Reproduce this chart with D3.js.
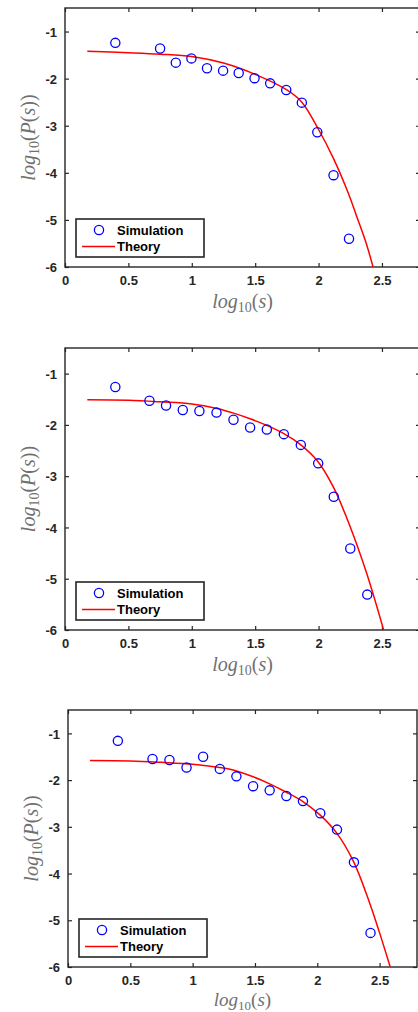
<!DOCTYPE html>
<html>
<head>
<meta charset="utf-8">
<script src="https://cdn.jsdelivr.net/npm/d3@7"></script>
<style>
  body { margin: 0; background: #fff; }
  svg { display: block; }
  .tick text { font-family: "Liberation Sans", Arial, sans-serif; font-weight: bold; font-size: 13px; fill: #262626; }
  .lab { font-family: "Liberation Serif", "Times New Roman", serif; fill: #707070; }
  .leg { font-family: "Liberation Sans", Arial, sans-serif; font-weight: bold; font-size: 13px; fill: #000; }
</style>
</head>
<body>
<div id="chart"></div>
<script>
// simulation points, one pair of arrays per panel
const sim1X = [0.397, 0.75, 0.874, 0.997, 1.12, 1.247, 1.37, 1.495, 1.618, 1.745, 1.868, 1.99, 2.118, 2.24]
const sim1Y = [-1.24, -1.36, -1.66, -1.57, -1.78, -1.83, -1.88, -1.99, -2.10, -2.24, -2.51, -3.14, -4.05, -5.40]
const sim2X = [0.397, 0.666, 0.797, 0.929, 1.06, 1.195, 1.329, 1.46, 1.592, 1.726, 1.86, 1.997, 2.12, 2.25, 2.384]
const sim2Y = [-1.26, -1.53, -1.62, -1.71, -1.73, -1.76, -1.90, -2.05, -2.09, -2.18, -2.39, -2.75, -3.40, -4.41, -5.31]
const sim3X = [0.40, 0.678, 0.814, 0.951, 1.084, 1.218, 1.351, 1.485, 1.618, 1.752, 1.885, 2.024, 2.158, 2.294, 2.427]
const sim3Y = [-1.16, -1.55, -1.57, -1.73, -1.50, -1.76, -1.92, -2.13, -2.22, -2.34, -2.45, -2.71, -3.06, -3.76, -5.27]

// theory curves
const theory1X = [0.176, 0.5, 0.75, 1.0, 1.25, 1.5, 1.75, 1.868, 2.0, 2.118, 2.237, 2.30, 2.37, 2.43]
const theory1Y = [-1.42, -1.45, -1.48, -1.53, -1.67, -1.91, -2.24, -2.50, -3.08, -3.70, -4.45, -4.92, -5.45, -6.0]
const theory2X = [0.176, 0.5, 0.75, 1.0, 1.2, 1.33, 1.46, 1.592, 1.726, 1.855, 1.99, 2.118, 2.25, 2.38, 2.513]
const theory2Y = [-1.51, -1.52, -1.55, -1.59, -1.68, -1.77, -1.88, -2.01, -2.17, -2.38, -2.70, -3.22, -3.99, -4.90, -6.0]
const theory3X = [0.176, 0.5, 0.75, 1.0, 1.218, 1.3, 1.485, 1.618, 1.752, 1.885, 2.019, 2.152, 2.29, 2.42, 2.5, 2.585]
const theory3Y = [-1.58, -1.59, -1.62, -1.66, -1.73, -1.77, -1.93, -2.08, -2.26, -2.46, -2.74, -3.12, -3.74, -4.63, -5.27, -6.0]

const xTicks = [0, 0.5, 1, 1.5, 2, 2.5]
const yTicks = [-1, -2, -3, -4, -5, -6]
const legendLabels = ['Simulation', 'Theory']

const W = 418, H = 1012
const axisColor = '#262626'

// plot boxes (pixels) for the three stacked panels
const panels = [
  { left: 65, right: 420, top: 8, bottom: 267, xlab: 41, xfs: 20, sx: sim1X, sy: sim1Y, tx: theory1X, ty: theory1Y },
  { left: 65, right: 420, top: 348, bottom: 630, xlab: 41, xfs: 20, sx: sim2X, sy: sim2Y, tx: theory2X, ty: theory2Y },
  { left: 68, right: 417, top: 710, bottom: 967, xlab: 39, xfs: 19, sx: sim3X, sy: sim3Y, tx: theory3X, ty: theory3Y }
]

const svg = d3.select('#chart').append('svg')
  .attr('width', W)
  .attr('height', H)

panels.forEach((p, i) => {
  const x = d3.scaleLinear().domain([0, 2.8]).range([p.left, p.right])
  const y = d3.scaleLinear().domain([-6, -0.5]).range([p.bottom, p.top])
  const g = svg.append('g')

  g.append('clipPath').attr('id', `clip-${i}`)
    .append('rect')
      .attr('x', p.left).attr('y', p.top)
      .attr('width', p.right - p.left).attr('height', p.bottom - p.top)

  // axes with inward ticks, mirrored on top and right
  const fmt = d => d3.format('')(d).replace('−', '-')
  g.append('g').attr('transform', `translate(0,${p.bottom})`)
    .call(d3.axisBottom(x).tickValues(xTicks).tickSizeInner(-4).tickSizeOuter(0).tickPadding(9).tickFormat(fmt))
  const leftAx = g.append('g').attr('transform', `translate(${p.left},0)`)
    .call(d3.axisLeft(y).tickValues(yTicks).tickSizeInner(-4).tickSizeOuter(0).tickPadding(8).tickFormat(fmt))
  g.append('g').attr('transform', `translate(0,${p.top})`)
    .call(d3.axisTop(x).tickValues(xTicks).tickSizeInner(-4).tickSizeOuter(0).tickFormat(''))
  g.append('g').attr('transform', `translate(${p.right},0)`)
    .call(d3.axisRight(y).tickValues(yTicks).tickSizeInner(-4).tickSizeOuter(0).tickFormat(''))
  g.selectAll('.domain').remove()
  g.selectAll('.tick line').attr('stroke', axisColor).attr('stroke-width', 1.2)
  leftAx.selectAll('.tick text').attr('dy', '0.36em')

  g.append('rect')
    .attr('x', p.left).attr('y', p.top)
    .attr('width', p.right - p.left).attr('height', p.bottom - p.top)
    .attr('fill', 'none').attr('stroke', axisColor).attr('stroke-width', 1.4)

  // theory curve
  const line = d3.line().x(d => x(d[0])).y(d => y(d[1])).curve(d3.curveCatmullRom.alpha(0.5))
  g.append('path')
    .datum(p.tx.map((v, k) => [v, p.ty[k]]))
    .attr('clip-path', `url(#clip-${i})`)
    .attr('d', line)
    .attr('fill', 'none').attr('stroke', '#ff0000').attr('stroke-width', 1.5)

  // simulation circles
  g.append('g').selectAll('circle')
    .data(p.sx.map((v, k) => [v, p.sy[k]]))
    .join('circle')
      .attr('cx', d => x(d[0])).attr('cy', d => y(d[1]))
      .attr('r', 4.6)
      .attr('fill', 'none').attr('stroke', '#0000ff').attr('stroke-width', 1.3)

  // legend
  const lx = p.left + 11, ly = p.bottom - 48
  const leg = g.append('g')
  leg.append('rect').attr('x', lx).attr('y', ly).attr('width', 128).attr('height', 38)
    .attr('fill', '#fff').attr('stroke', axisColor).attr('stroke-width', 1.6)
  leg.append('circle').attr('cx', lx + 23).attr('cy', ly + 11).attr('r', 4.6)
    .attr('fill', 'none').attr('stroke', '#0000ff').attr('stroke-width', 1.3)
  leg.append('line').attr('x1', lx + 6).attr('x2', lx + 39).attr('y1', ly + 27.5).attr('y2', ly + 27.5)
    .attr('stroke', '#ff0000').attr('stroke-width', 1.5)
  legendLabels.forEach((t, k) => {
    leg.append('text').attr('class', 'leg').attr('x', lx + 41).attr('y', ly + 11 + k * 16.5).attr('dy', '0.36em').text(t)
  })

  // x label: log_{10}(s)
  const sub = Math.round(p.xfs * 0.7)
  const xl = g.append('text').attr('class', 'lab').attr('font-size', p.xfs)
    .attr('x', x(1.4)).attr('y', p.bottom + p.xlab).attr('text-anchor', 'middle')
  xl.append('tspan').attr('font-style', 'italic').text('log')
  xl.append('tspan').attr('font-size', sub).attr('dy', 4).text('10')
  xl.append('tspan').attr('dy', -4).text('(')
  xl.append('tspan').attr('font-style', 'italic').text('s')
  xl.append('tspan').text(')')

  // y label: log_{10}(P(s))
  const cy = (p.top + p.bottom) / 2
  const yl = g.append('text').attr('class', 'lab').attr('font-size', 20)
    .attr('transform', `translate(${p.left - 30},${cy}) rotate(-90)`).attr('text-anchor', 'middle')
  yl.append('tspan').attr('font-style', 'italic').text('log')
  yl.append('tspan').attr('font-size', 14).attr('dy', 4).text('10')
  yl.append('tspan').attr('dy', -4).text('(')
  yl.append('tspan').attr('font-style', 'italic').text('P')
  yl.append('tspan').text('(')
  yl.append('tspan').attr('font-style', 'italic').text('s')
  yl.append('tspan').text('))')
})
</script>
</body>
</html>
